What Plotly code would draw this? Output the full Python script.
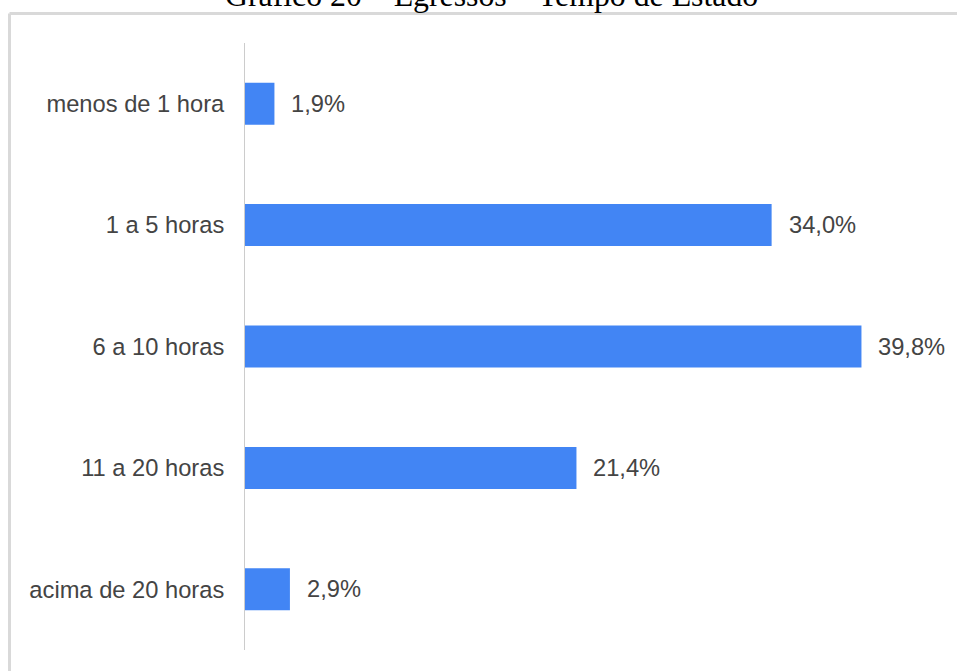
import plotly.graph_objects as go

# Egressos: tempo dedicado ao estudo
categorias = ["menos de 1 hora", "1 a 5 horas", "6 a 10 horas", "11 a 20 horas", "acima de 20 horas"]
percentuais = [1.9, 34.0, 39.8, 21.4, 2.9]
titulo = "Gráfico 20 – Egressos – Tempo de Estado"

W, H = 958, 671
ML, MR, MT, MB = 245, 16, 43, 21
plot_w = W - ML - MR
plot_h = H - MT - MB


def px_x(p):
    return (p - ML) / plot_w


def px_y(p):
    return (H - MB - p) / plot_h


def rotulo(v):
    return f"{v:.1f}".replace(".", ",") + "%"


fig = go.Figure(
    go.Bar(
        x=percentuais,
        y=categorias,
        orientation="h",
        marker=dict(color="#4285F4", line=dict(width=0)),
        width=0.346,
        hoverinfo="skip",
    )
)

annotations = [
    dict(
        x=v, y=c, xref="x", yref="y",
        text=rotulo(v), showarrow=False,
        xanchor="left", yanchor="middle", xshift=15,
        font=dict(family="Liberation Sans, Arial", size=23.7, color="#444444"),
    )
    for c, v in zip(categorias, percentuais)
]
annotations.append(
    dict(
        x=px_x(491), y=px_y(-5), xref="paper", yref="paper",
        text=titulo, showarrow=False,
        xanchor="center", yanchor="middle",
        font=dict(family="Liberation Serif, Times New Roman", size=31.8, color="#000000"),
    )
)

shapes = [
    dict(type="line", xref="paper", yref="paper",
         x0=px_x(9.5), x1=px_x(957), y0=px_y(13.5), y1=px_y(13.5),
         line=dict(color="#d9d9d9", width=3)),
    dict(type="line", xref="paper", yref="paper",
         x0=px_x(9.5), x1=px_x(9.5), y0=px_y(13.5), y1=px_y(700),
         line=dict(color="#d9d9d9", width=3)),
]

fig.update_layout(
    width=W, height=H,
    margin=dict(l=ML, r=MR, t=MT, b=MB, pad=0),
    paper_bgcolor="white", plot_bgcolor="white",
    showlegend=False,
    annotations=annotations,
    shapes=shapes,
    xaxis=dict(range=[0, 45], visible=False, showgrid=False, zeroline=False),
    yaxis=dict(
        autorange="reversed",
        showline=True, linecolor="#cccccc", linewidth=1,
        showgrid=False, zeroline=False, ticks="",
        ticklabelstandoff=15,
        tickfont=dict(family="Liberation Sans, Arial", size=23.7, color="#444444"),
    ),
)

fig.write_html("out.html")
